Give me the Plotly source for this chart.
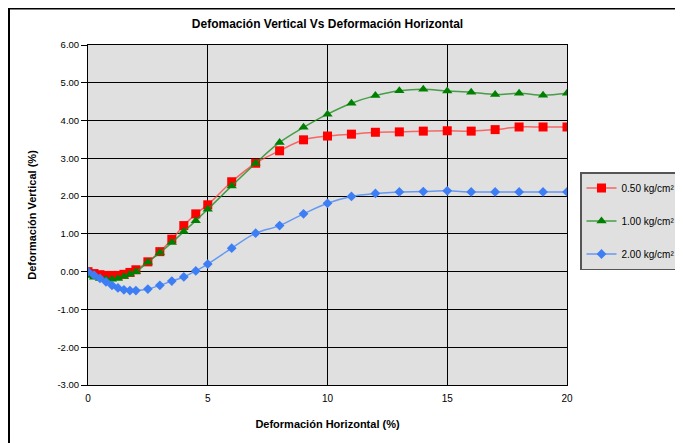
import plotly.graph_objects as go

x_vals = [0, 0.25, 0.5, 0.75, 1.0, 1.25, 1.5, 1.75, 2.0, 2.5, 3.0, 3.5, 4.0, 4.5, 5.0,
          6, 7, 8, 9, 10, 11, 12, 13, 14, 15, 16, 17, 18, 19, 20]

y_050 = [0.00, -0.05, -0.08, -0.10, -0.10, -0.10, -0.07, -0.02, 0.05, 0.26, 0.53, 0.86, 1.22, 1.53, 1.77,
         2.38, 2.87, 3.20, 3.49, 3.59, 3.64, 3.69, 3.70, 3.72, 3.73, 3.72, 3.76, 3.83, 3.83, 3.83]
y_100 = [-0.10, -0.15, -0.18, -0.20, -0.20, -0.18, -0.13, -0.07, 0.00, 0.25, 0.50, 0.77, 1.06, 1.35, 1.65,
         2.27, 2.87, 3.42, 3.82, 4.17, 4.46, 4.66, 4.79, 4.83, 4.78, 4.75, 4.69, 4.72, 4.67, 4.72]
y_200 = [0.00, -0.09, -0.18, -0.27, -0.36, -0.43, -0.48, -0.50, -0.50, -0.46, -0.36, -0.25, -0.14, 0.02, 0.20,
         0.62, 1.02, 1.22, 1.53, 1.81, 1.99, 2.07, 2.11, 2.12, 2.14, 2.11, 2.11, 2.11, 2.11, 2.11]

names = ["0.50 kg/cm²", "1.00 kg/cm²", "2.00 kg/cm²"]
y_ticks = [6, 5, 4, 3, 2, 1, 0, -1, -2, -3]
x_ticks = [0, 5, 10, 15, 20]

FONT = "Liberation Sans, Arial, sans-serif"

W, H = 675, 435          # page body has an 8px margin
L, R, T, B = 80, 116, 37, 58
PW = W - L - R
PH = H - T - B

fig = go.Figure()
fig.add_trace(go.Scatter(x=x_vals, y=y_050, name=names[0], mode="lines+markers",
                         legendgroup="a",
                         line=dict(color="rgba(255,60,60,0.75)", width=1.5, shape="spline"),
                         marker=dict(symbol="square", size=9, color="#ff0000")))
fig.add_trace(go.Scatter(x=x_vals, y=y_100, name=names[1], mode="lines+markers",
                         legendgroup="b",
                         line=dict(color="rgba(30,140,30,0.8)", width=1.5, shape="spline"),
                         marker=dict(symbol="triangle-up", size=9, color="#008000")))
fig.add_trace(go.Scatter(x=x_vals, y=y_200, name=names[2], mode="lines+markers",
                         legendgroup="c",
                         line=dict(color="rgba(80,140,245,0.85)", width=1.5, shape="spline"),
                         marker=dict(symbol="diamond", size=7.5, color="#3d7ef5")))

fig.update_layout(
    width=W, height=H,
    margin=dict(l=L, r=R, t=T, b=B, autoexpand=False),
    paper_bgcolor="white",
    plot_bgcolor="#e0e0e0",
    font=dict(family=FONT, size=9, color="black"),
    title=dict(text="<b>Defomación Vertical Vs Deformación Horizontal</b>",
               x=0.5, xref="paper", xanchor="center", y=1 - 16 / H, yanchor="middle",
               font=dict(size=12, family=FONT, color="black")),
    xaxis=dict(range=[0, 20], tickvals=x_ticks, ticktext=[str(v) for v in x_ticks],
               showgrid=True, gridcolor="black", gridwidth=1,
               showline=True, linecolor="black", linewidth=1, mirror=True,
               ticks="outside", ticklen=4, tickcolor="rgba(0,0,0,0)",
               zeroline=False, automargin=False,
               tickfont=dict(size=10),
               title=dict(text="<b>Deformación Horizontal (%)</b>", standoff=17,
                          font=dict(size=11, family=FONT))),
    yaxis=dict(range=[-3, 6], tickvals=y_ticks, ticktext=[f"{v:.2f}" for v in y_ticks],
               showgrid=True, gridcolor="black", gridwidth=1,
               showline=True, linecolor="black", linewidth=1, mirror=True,
               ticks="outside", ticklen=6, tickcolor="black",
               zeroline=False, automargin=False,
               tickfont=dict(size=9.5),
               title=dict(text="<b>Deformación Vertical (%)</b>", standoff=18,
                          font=dict(size=11, family=FONT))),
    legend=dict(x=(572 - L) / PW, xanchor="left", y=1 - (164 - T) / PH, yanchor="top",
                bgcolor="#e0e0e0", bordercolor="#555555", borderwidth=1.5,
                font=dict(size=10, family=FONT), tracegroupgap=14,
                traceorder="grouped", itemwidth=30),
    showlegend=True,
)

# outer chart border
fig.add_shape(type="rect", xref="paper", yref="paper",
              x0=(1 - L) / PW, x1=1.35, y0=-0.25, y1=1 + (T - 0.5) / PH,
              line=dict(color="black", width=2), fillcolor="rgba(0,0,0,0)", layer="below")

fig.write_html("out.html")
